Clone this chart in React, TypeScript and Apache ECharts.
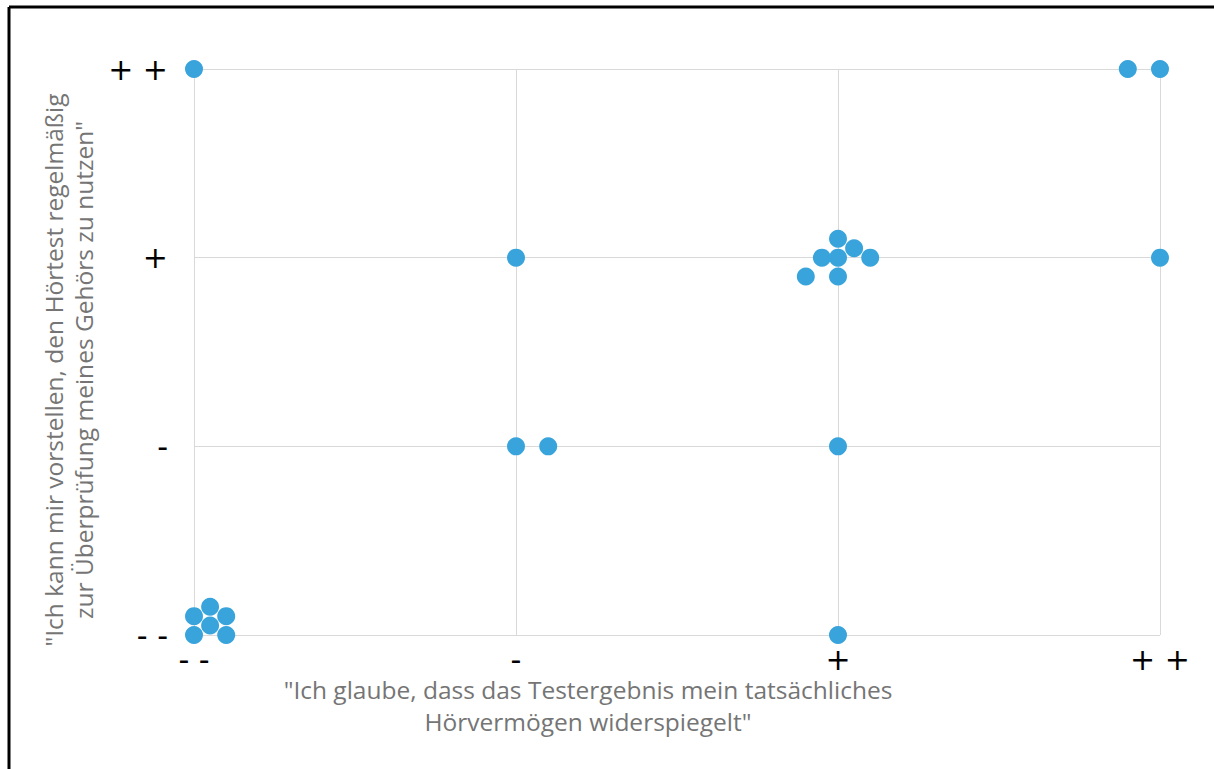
import React, { useEffect, useRef } from "react";
import * as echarts from "echarts";

const xTickLabels = ["- -", "-", "+", "+ +"];
const yTickLabels = ["- -", "-", "+", "+ +"];

const xTitle = '"Ich glaube, dass das Testergebnis mein tatsächliches\nHörvermögen widerspiegelt"';
const yTitle = '"Ich kann mir vorstellen, den Hörtest regelmäßig\nzur Überprüfung meines Gehörs zu nutzen"';

// x and y positions of the answers (0 = "- -", 3 = "+ +"), small offsets separate overlapping answers
const xValues = [0, 0.1, 0, 0.1, 0.05, 0.05, 2, 1, 1.1, 2, 1, 2, 1.95, 2, 2.05, 2.1, 1.9, 2, 3, 0, 2.9, 3];
const yValues = [0, 0, 0.1, 0.1, 0.05, 0.15, 0, 1, 1, 1, 2, 2, 2, 2.1, 2.05, 2, 1.9, 1.9, 2, 3, 3, 3];

export default function App() {
  const ref = useRef<HTMLDivElement>(null);
  useEffect(() => {
    document.body.style.margin = "0";
    if (!ref.current) return;
    const chart = echarts.init(ref.current, undefined, { renderer: "svg" });
    const data = xValues.map((x, i) => [x, yValues[i]]);
    chart.setOption({
      animation: false,
      backgroundColor: "#ffffff",
      grid: { left: 194, right: 54, top: 69, bottom: 134, containLabel: false },
      xAxis: {
        type: "value",
        min: 0,
        max: 3,
        interval: 1,
        name: xTitle,
        nameLocation: "middle",
        nameGap: 38,
        nameMoveOverlap: false,
        nameTextStyle: {
          color: "#757575",
          fontSize: 24.5,
          fontFamily: "Open Sans",
          lineHeight: 32,
          padding: [0, 0, 0, -178],
        },
        axisLine: { show: false },
        axisTick: { show: false },
        splitLine: { show: true, lineStyle: { color: "#d9d9d9", width: 1 } },
        axisLabel: {
          formatter: (v: number) => xTickLabels[Math.round(v)] ?? "",
          color: "#000000",
          fontSize: 30,
          lineHeight: 23,
          fontFamily: "DejaVu Sans",
          margin: 13,
        },
      },
      yAxis: {
        type: "value",
        min: 0,
        max: 3,
        interval: 1,
        name: yTitle,
        nameLocation: "middle",
        nameGap: 96,
        nameMoveOverlap: false,
        nameRotate: 90,
        nameTextStyle: {
          color: "#757575",
          fontSize: 24.5,
          fontFamily: "Open Sans",
          lineHeight: 30,
          padding: [0, 0, 0, -36],
        },
        axisLine: { show: false },
        axisTick: { show: false },
        splitLine: { show: true, lineStyle: { color: "#d9d9d9", width: 1 } },
        axisLabel: {
          formatter: (v: number) => yTickLabels[Math.round(v)] ?? "",
          color: "#000000",
          fontSize: 30,
          fontFamily: "DejaVu Sans",
          margin: 26,
        },
      },
      graphic: [
        { type: "line", shape: { x1: 9, y1: 7, x2: 1214, y2: 7 }, style: { stroke: "#000", lineWidth: 3 } },
        { type: "line", shape: { x1: 9, y1: 7, x2: 9, y2: 769 }, style: { stroke: "#000", lineWidth: 3 } },
      ],
      series: [
        {
          type: "scatter",
          data,
          symbol: "circle",
          symbolSize: 18,
          itemStyle: { color: "#39a4dc", opacity: 1 },
          z: 3,
        },
      ],
    });
    return () => chart.dispose();
  }, []);
  return <div ref={ref} style={{ width: 1214, height: 769 }} />;
}
